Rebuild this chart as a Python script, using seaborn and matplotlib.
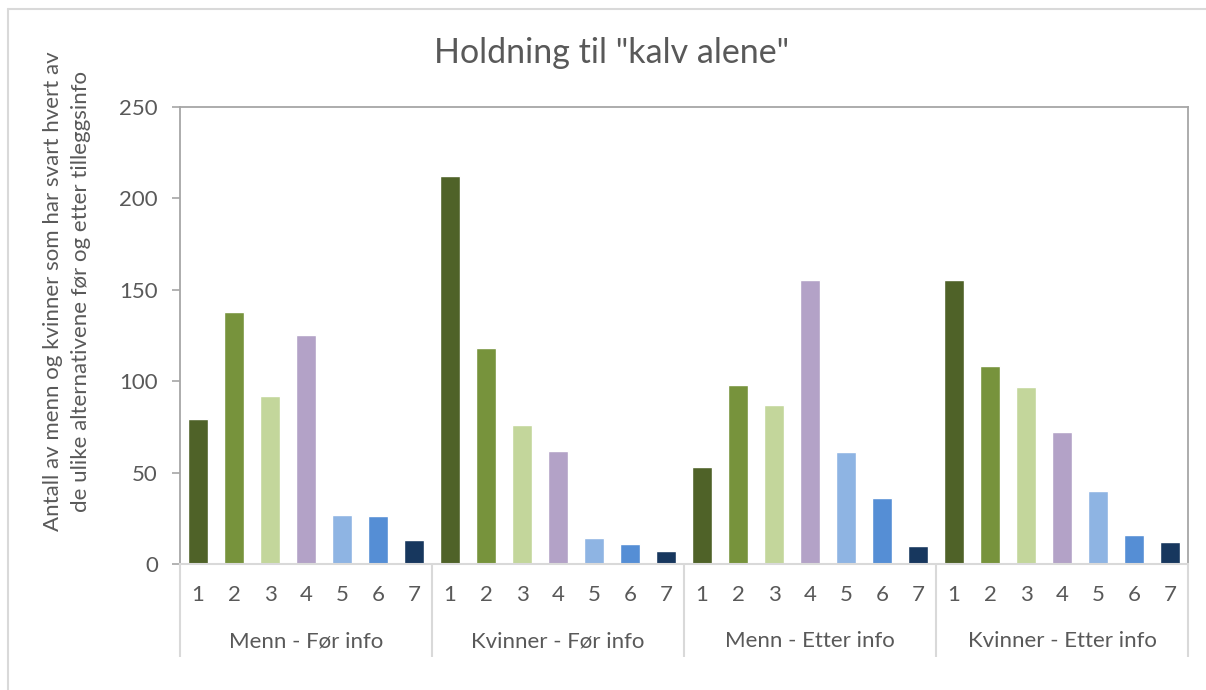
import matplotlib
matplotlib.use("Agg")
import matplotlib.pyplot as plt
import matplotlib.transforms as mtransforms
import pandas as pd
import seaborn as sns

# Survey answers: number of respondents per alternative (1-7),
# split by gender and by before/after extra information
groups = ["Menn - Før info", "Kvinner - Før info", "Menn - Etter info", "Kvinner - Etter info"]
alternatives = ["1", "2", "3", "4", "5", "6", "7"]
menn_for = [79, 138, 92, 125, 27, 26, 13]
kvinner_for = [212, 118, 76, 62, 14, 11, 7]
menn_etter = [53, 98, 87, 155, 61, 36, 10]
kvinner_etter = [155, 108, 97, 72, 40, 16, 12]
y_ticks = [0, 50, 100, 150, 200, 250]

colors = ["#4F6228", "#77933C", "#C3D69B", "#B3A2C7", "#8EB4E3", "#558ED5", "#17375E"]
TEXT = "#595959"
AXIS = "#A6A6A6"
LIGHT = "#D9D9D9"
FS = 16

rows = []
for gi, (grp, vals) in enumerate(zip(groups, [menn_for, kvinner_for, menn_etter, kvinner_etter])):
    for ai, (alt, v) in enumerate(zip(alternatives, vals)):
        rows.append({"slot": gi * len(alternatives) + ai, "gruppe": grp,
                     "alternativ": alt, "antall": v})
df = pd.DataFrame(rows)

sns.set_theme(style="white")
plt.rcParams["font.family"] = ["Lato", "DejaVu Sans"]

W, H = 1206, 690
fig = plt.figure(figsize=(W / 100, H / 100), dpi=100)
ax = fig.add_axes([180 / W, (H - 564) / H, (1188 - 180) / W, (564 - 106.7) / H])

sns.barplot(data=df, x="slot", y="antall", hue="alternativ", hue_order=alternatives,
            palette=colors, dodge=False, width=0.53, legend=False,
            saturation=1, ax=ax)

n_slots = len(df)
ax.set_xlim(-0.5, n_slots - 0.5)
ax.set_ylim(0, 250)
ax.set_yticks(y_ticks)
ax.set_yticklabels([str(t) for t in y_ticks])
ax.tick_params(axis="y", colors=AXIS, labelcolor=TEXT, labelsize=FS,
               length=6, width=1.2, direction="out", pad=10, left=True)
ax.set_xticks([])
ax.set_xlabel("")
ax.set_ylabel("")

for side in ["left", "top", "right"]:
    ax.spines[side].set_visible(True)
    ax.spines[side].set_color(AXIS)
    ax.spines[side].set_linewidth(1.3)
ax.spines["bottom"].set_color(LIGHT)
ax.spines["bottom"].set_linewidth(1.5)

# Two-level category axis: alternative numbers and group names
trans = mtransforms.blended_transform_factory(ax.transData, ax.transAxes)
ax_h_px = 564 - 106.7
y_num = -(595 - 564) / ax_h_px
y_grp = -(641 - 564) / ax_h_px
y_div = -(657 - 564) / ax_h_px
n_alt = len(alternatives)
for _, r in df.iterrows():
    ax.text(r["slot"], y_num, r["alternativ"], transform=trans, ha="center", va="center",
            fontsize=FS, color=TEXT)
for gi, grp in enumerate(groups):
    center = gi * n_alt + (n_alt - 1) / 2
    ax.text(center, y_grp, grp, transform=trans, ha="center", va="center",
            fontsize=FS, color=TEXT)
for gi in range(len(groups) + 1):
    xb = gi * n_alt - 0.5
    ax.plot([xb, xb], [0, y_div], transform=trans, color=LIGHT, lw=1.5,
            clip_on=False, solid_capstyle="butt")

# Title and axis title
fig.text(612 / W, (H - 53) / H, 'Holdning til "kalv alene"', ha="center", va="center",
         fontsize=24.5, color=TEXT)
fig.text(67 / W, (H - 291) / H,
         "Antall av menn og kvinner som har svart hvert av\n"
         "de ulike alternativene før og etter tilleggsinfo",
         rotation=90, ha="center", va="center", fontsize=FS, color=TEXT,
         linespacing=1.5, multialignment="center")

# Chart-area border
fig.add_artist(plt.Line2D([8 / W, 1], [(H - 9) / H, (H - 9) / H], transform=fig.transFigure,
                          color=LIGHT, lw=1.5))
fig.add_artist(plt.Line2D([8 / W, 8 / W], [0, (H - 9) / H], transform=fig.transFigure,
                          color=LIGHT, lw=1.5))

fig.savefig("out.png", dpi=100, facecolor="white")
